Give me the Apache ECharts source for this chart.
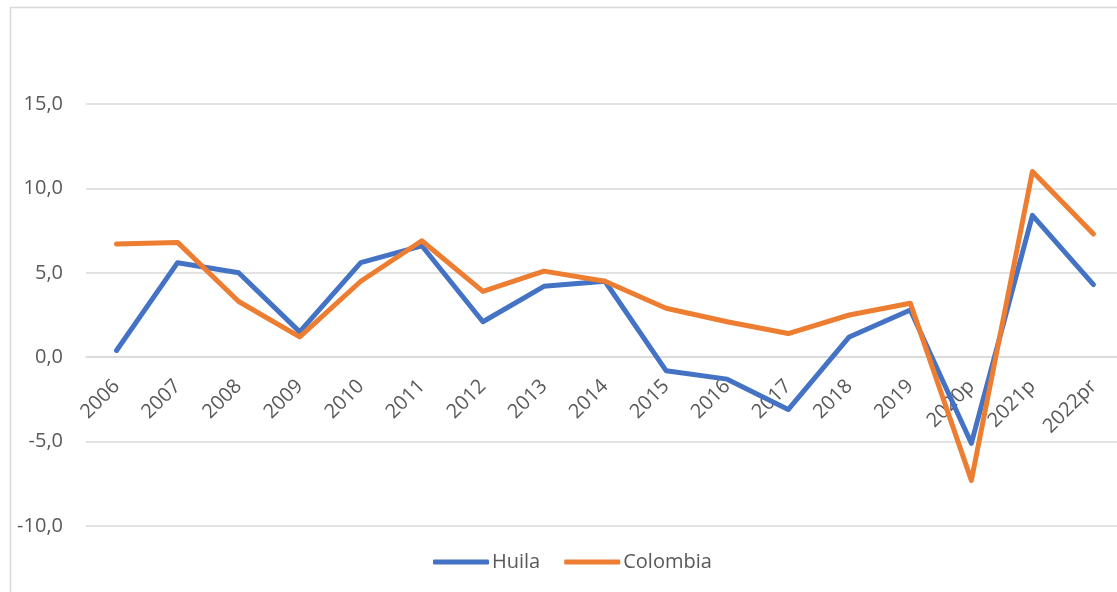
<!DOCTYPE html>
<html>
<head>
<meta charset="utf-8">
<script src="https://cdn.jsdelivr.net/npm/echarts@6/dist/echarts.min.js"></script>
<style>html,body{margin:0;padding:0;background:#fff;}#c{width:1117px;height:592px;}</style>
</head>
<body>
<div id="c"></div>
<script>
const categories = ['2006','2007','2008','2009','2010','2011','2012','2013','2014','2015','2016','2017','2018','2019','2020p','2021p','2022pr'];
const huila = [0.4, 5.6, 5.0, 1.5, 5.6, 6.6, 2.1, 4.2, 4.5, -0.8, -1.3, -3.1, 1.2, 2.8, -5.1, 8.4, 4.3];
const colombia = [6.7, 6.8, 3.3, 1.2, 4.5, 6.9, 3.9, 5.1, 4.5, 2.9, 2.1, 1.4, 2.5, 3.2, -7.3, 11.0, 7.3];
const seriesNames = ['Huila', 'Colombia'];
const yMin = -10, yMax = 15, yStep = 5;

const GRID_TOP = 104, GRID_BOTTOM = 66, H = 592;
const plotH = H - GRID_TOP - GRID_BOTTOM;
// move the category axis (line + labels) up to the zero level of the value axis
const zeroOffset = -((0 - yMin) / (yMax - yMin)) * plotH;

const chart = echarts.init(document.getElementById('c'), null, {renderer: 'canvas'});
const FONT = '"Open Sans", "Noto Sans", sans-serif';
const TXT = '#595959';
const GRID = '#d9d9d9';
chart.setOption({
  animation: false,
  backgroundColor: '#fff',
  graphic: [{
    type: 'rect', silent: true, z: -10,
    shape: {x: 10.5, y: 7.5, width: 1300, height: 800},
    style: {fill: 'none', stroke: GRID, lineWidth: 1.5}
  }],
  grid: {left: 86, right: -7, top: GRID_TOP, bottom: GRID_BOTTOM, outerBoundsMode: 'none', containLabel: false},
  legend: {
    data: seriesNames.map(n => ({name: n, icon: 'roundRect'})),
    left: 428, top: 547,
    itemWidth: 56, itemHeight: 5, itemGap: 24,
    textStyle: {color: TXT, fontSize: 20, fontFamily: FONT, padding: [0, 0, 0, -2]}
  },
  xAxis: {
    type: 'category',
    data: categories,
    boundaryGap: true,
    offset: zeroOffset,
    axisLine: {onZero: false, lineStyle: {color: GRID, width: 1.5}},
    axisTick: {show: false},
    axisLabel: {rotate: 45, margin: 26, color: TXT, fontSize: 20, fontFamily: FONT, interval: 0}
  },
  yAxis: {
    type: 'value',
    min: yMin, max: yMax, interval: yStep,
    axisLine: {show: false},
    axisTick: {show: false},
    splitLine: {lineStyle: {color: GRID, width: 1.5}},
    axisLabel: {
      margin: 23, color: TXT, fontSize: 20, fontFamily: FONT,
      formatter: v => v.toFixed(1).replace('.', ',')
    }
  },
  series: [
    {name: seriesNames[0], type: 'line', data: huila, symbol: 'none', smooth: false,
     itemStyle: {color: '#4472C4'},
     lineStyle: {color: '#4472C4', width: 5, cap: 'round', join: 'round'}},
    {name: seriesNames[1], type: 'line', data: colombia, symbol: 'none', smooth: false,
     itemStyle: {color: '#ED7D31'},
     lineStyle: {color: '#ED7D31', width: 5, cap: 'round', join: 'round'}}
  ]
});
</script>
</body>
</html>
